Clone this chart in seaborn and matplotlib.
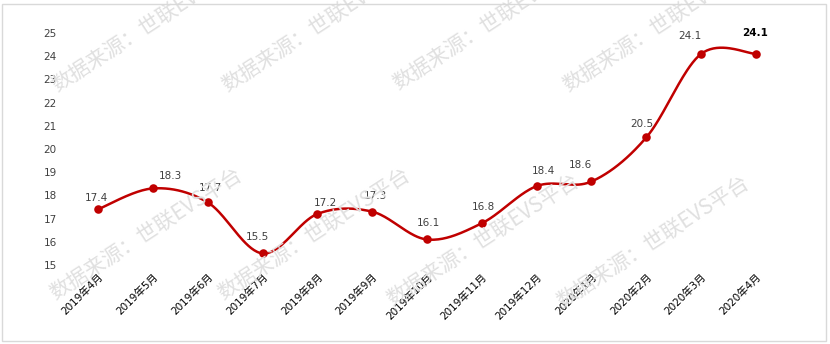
import numpy as np
import pandas as pd
import matplotlib
matplotlib.use("Agg")
import matplotlib.pyplot as plt
import seaborn as sns
from matplotlib.patches import Rectangle

# ---- data ----
months = ["2019年4月", "2019年5月", "2019年6月", "2019年7月", "2019年8月", "2019年9月",
          "2019年10月", "2019年11月", "2019年12月", "2020年1月", "2020年2月",
          "2020年3月", "2020年4月"]
values = [17.4, 18.3, 17.7, 15.5, 17.2, 17.3, 16.1, 16.8, 18.4, 18.6, 20.5, 24.1, 24.1]
yticks = [15, 16, 17, 18, 19, 20, 21, 22, 23, 24, 25]
watermark = "数据来源：世联EVS平台"

# label offsets (points) relative to each marker, as placed in the reference
label_dx = [-1, 13, 2, -4, 6, 2, 1, 1, 5, -8, -3, -8, -1]
label_dy = [8, 9, 10, 12, 8, 11, 12, 12, 11, 12, 10, 13, 15]

sns.set_theme(style="white")
plt.rcParams["font.family"] = ["DejaVu Sans", "Noto Sans CJK SC"]

W, H = 830, 344
fig = plt.figure(figsize=(W / 100, H / 100), dpi=100)
fig.patch.set_facecolor("white")
ax = fig.add_axes([70.6 / W, 1 - 265 / H, (783.4 - 70.6) / W, (265 - 33) / H])
ax.set_facecolor("none")

df = pd.DataFrame({"idx": np.arange(len(values)), "month": months, "value": values})

# Excel-like smoothed curve (cubic Bezier through the points)
P = np.column_stack([df["idx"].to_numpy(float), df["value"].to_numpy(float)])
Pext = np.vstack([P[0], P, P[-1]])
sx, sy = [], []
t = np.linspace(0, 1, 40)
for i in range(len(P) - 1):
    p0, p1, p2, p3 = Pext[i], Pext[i + 1], Pext[i + 2], Pext[i + 3]
    c1 = p1 + (p2 - p0) / 6
    c2 = p2 - (p3 - p1) / 6
    seg = ((1 - t) ** 3)[:, None] * p1 + (3 * (1 - t) ** 2 * t)[:, None] * c1 \
        + (3 * (1 - t) * t ** 2)[:, None] * c2 + (t ** 3)[:, None] * p2
    sx.extend(seg[:, 0]); sy.extend(seg[:, 1])
smooth = pd.DataFrame({"x": sx, "y": sy})

# watermarks (drawn beneath)
wm_pos = [(57, 92), (227, 92), (398, 90), (568, 92),
          (55, 300), (223, 300), (392, 306), (562, 308)]
for (px, py) in wm_pos:
    fig.text(px / W, 1 - py / H, watermark, rotation=33, rotation_mode="anchor",
             ha="left", va="baseline", fontsize=15, color="#E0E0E0",
             family=["Noto Sans CJK SC", "DejaVu Sans"], zorder=0)

sns.lineplot(data=smooth, x="x", y="y", ax=ax, color="#C00000", linewidth=1.8,
             sort=False, estimator=None, zorder=3)
sns.scatterplot(data=df, x="idx", y="value", ax=ax, color="#C00000", s=38,
                edgecolor="#C00000", linewidth=0, zorder=4)

for i, v in enumerate(values):
    last = i == len(values) - 1
    ax.annotate(f"{v:.1f}", (i, v), xytext=(label_dx[i], label_dy[i]),
                textcoords="offset points", ha="center", va="center",
                fontsize=7.5, color="#000000" if last else "#404040",
                fontweight="bold" if last else "normal", zorder=5)

ax.set_xlim(-0.5, len(values) - 0.5)
ax.set_ylim(15, 25)
ax.set_yticks(yticks)
ax.set_yticklabels([str(y) for y in yticks], fontsize=7.5, color="#404040")
ax.set_xticks(range(len(months)))
ax.set_xticklabels(months, rotation=45, ha="right", rotation_mode="anchor",
                   fontsize=7.5, color="#000000")
ax.tick_params(axis="y", length=0, pad=10)
ax.tick_params(axis="x", length=0, pad=5)
ax.set_xlabel("")
ax.set_ylabel("")
for s in ax.spines.values():
    s.set_visible(False)
ax.grid(False)

fig.patches.append(Rectangle((2 / W, 3 / H), (826 - 2) / W, (340 - 3) / H,
                             transform=fig.transFigure, fill=False,
                             edgecolor="#D9D9D9", linewidth=1.0, zorder=10))

fig.savefig("out.png", dpi=100, facecolor="white")
